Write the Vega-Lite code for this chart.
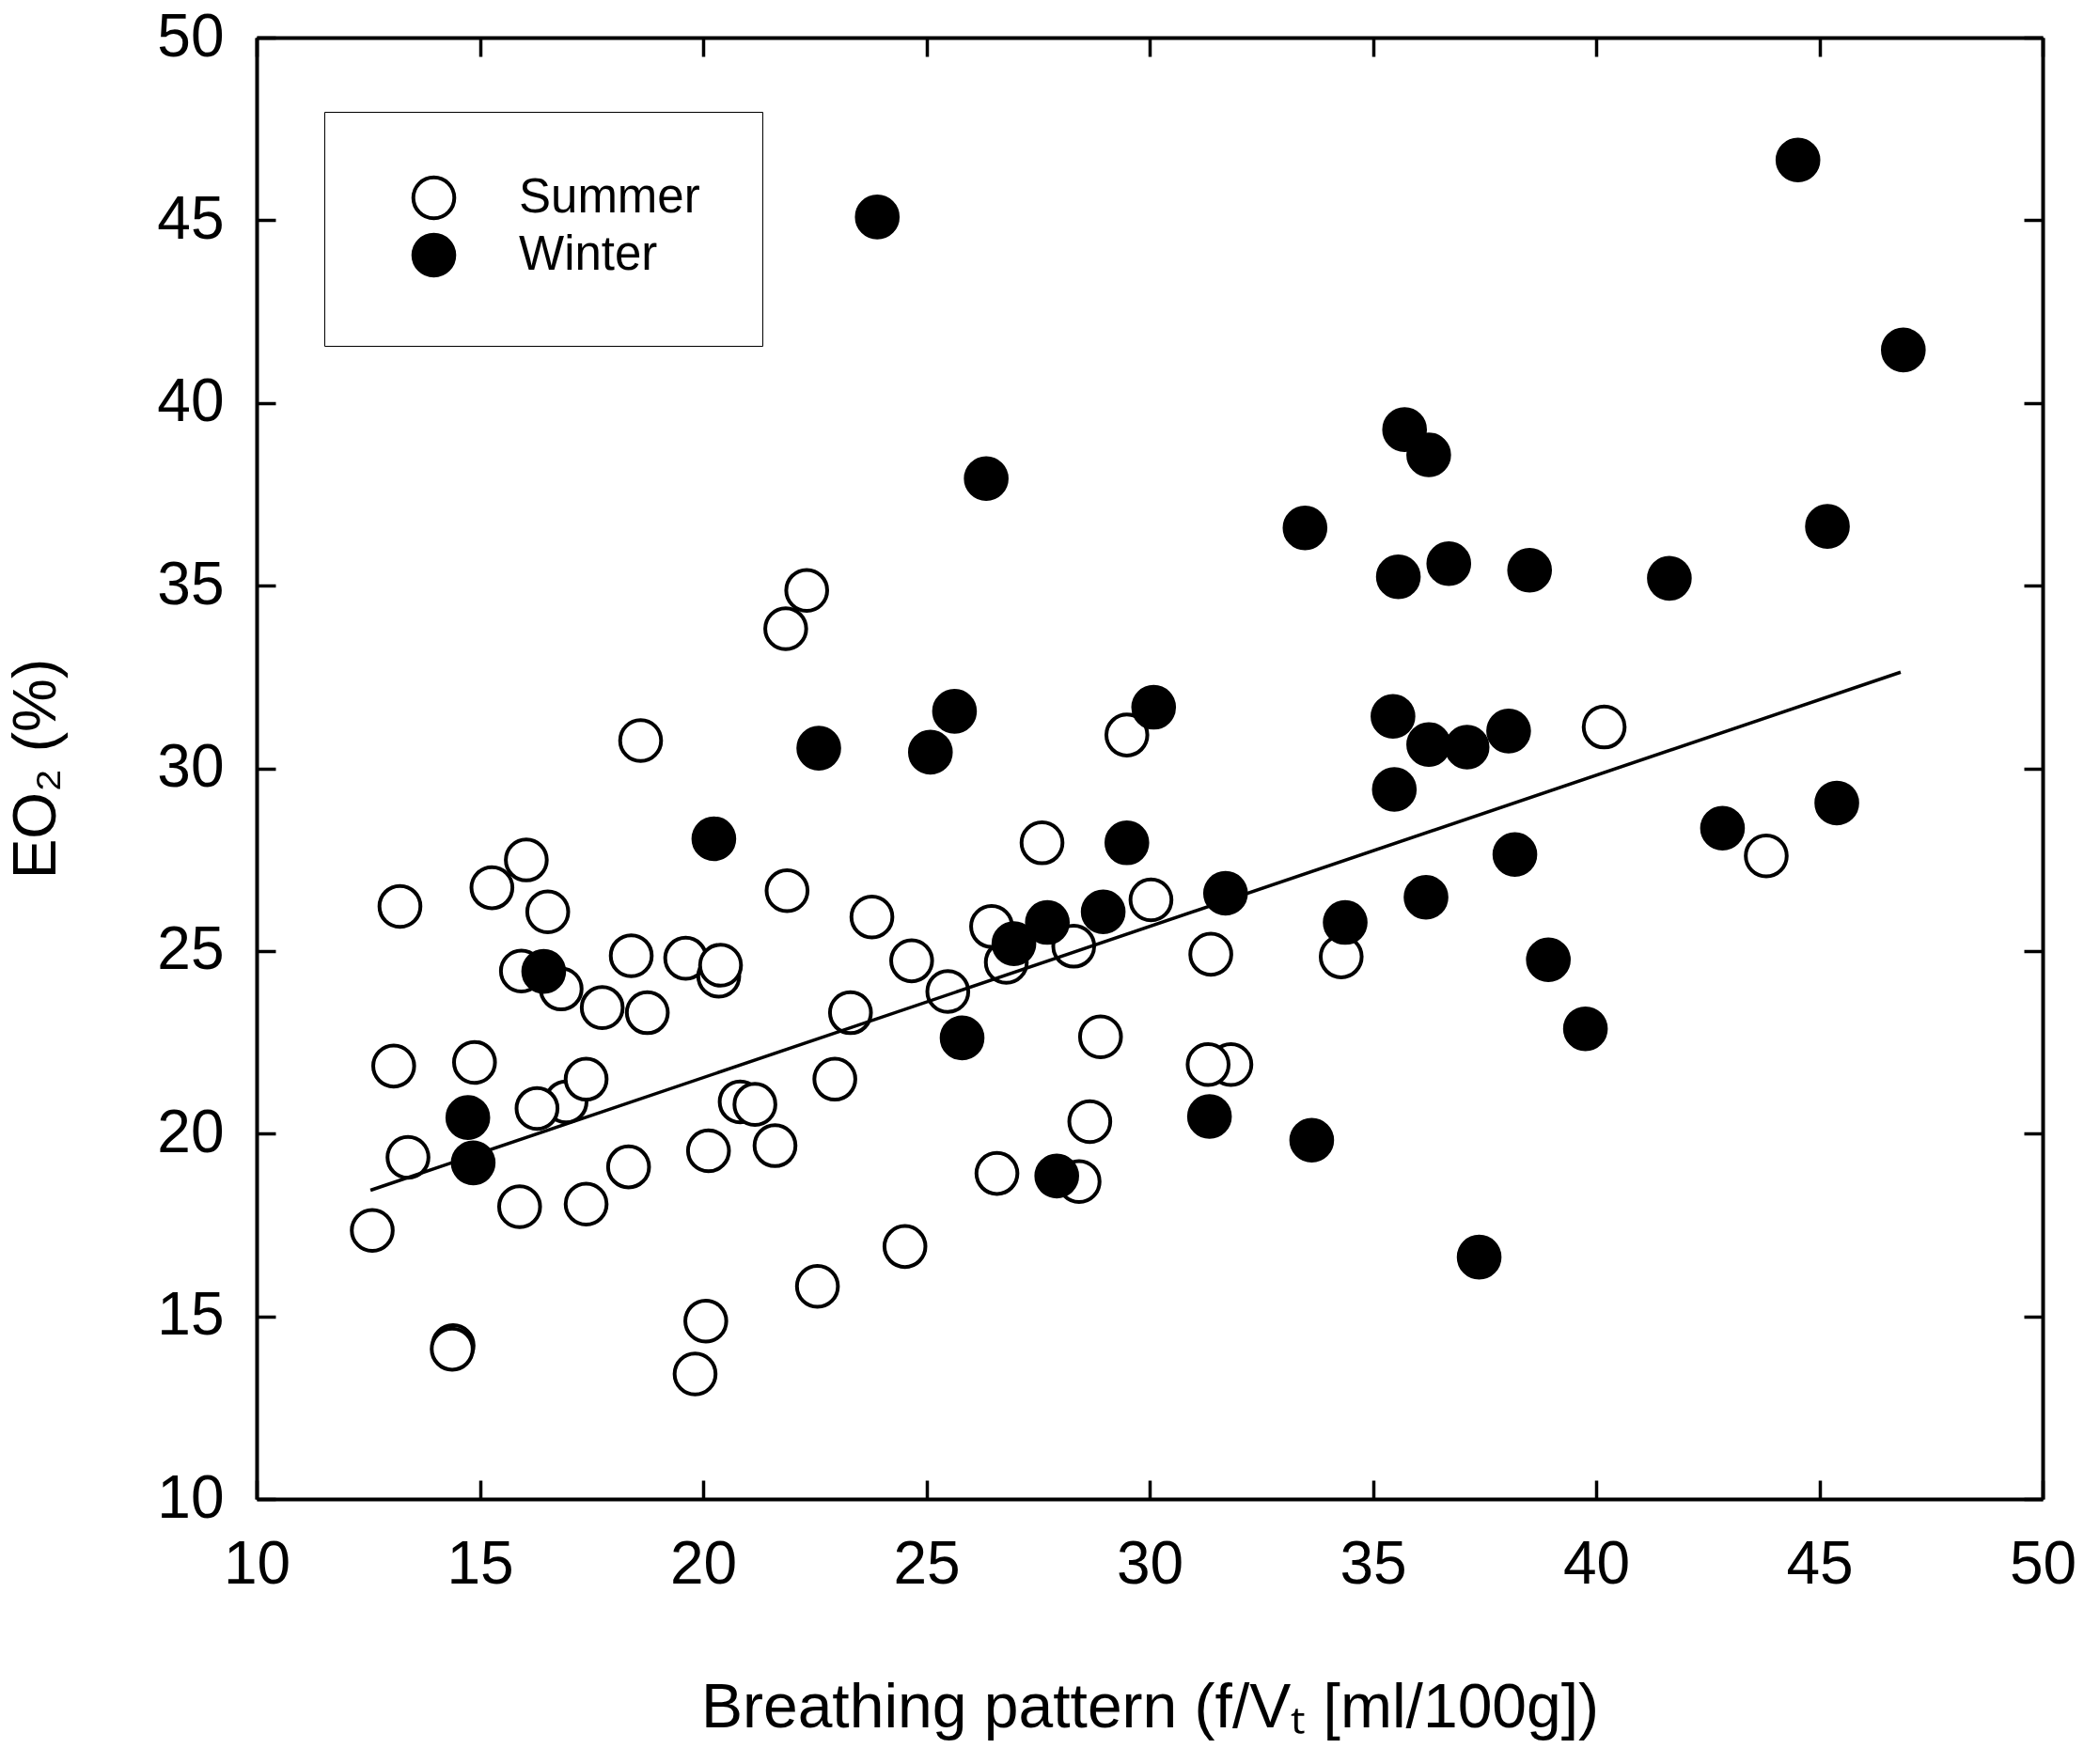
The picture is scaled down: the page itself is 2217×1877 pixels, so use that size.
{
  "$schema": "https://vega.github.io/schema/vega-lite/v6.json",
  "width": 1900,
  "height": 1555,
  "autosize": {"type": "none"},
  "padding": {"left": 273, "top": 40, "right": 44, "bottom": 282},
  "background": "white",
  "datasets": {
    "points": [
      {"season": "Summer", "x": 12.59, "y": 17.35},
      {"season": "Summer", "x": 13.07, "y": 21.85},
      {"season": "Summer", "x": 13.21, "y": 26.22},
      {"season": "Summer", "x": 13.39, "y": 19.35},
      {"season": "Summer", "x": 14.4, "y": 14.2},
      {"season": "Summer", "x": 14.38, "y": 14.1},
      {"season": "Summer", "x": 14.88, "y": 21.95},
      {"season": "Summer", "x": 15.27, "y": 26.73},
      {"season": "Summer", "x": 15.89, "y": 18.0},
      {"season": "Summer", "x": 16.04, "y": 27.49},
      {"season": "Summer", "x": 15.93, "y": 24.45},
      {"season": "Summer", "x": 16.52, "y": 26.07},
      {"season": "Summer", "x": 16.82, "y": 23.96},
      {"season": "Summer", "x": 16.93, "y": 20.87},
      {"season": "Summer", "x": 16.28, "y": 20.69},
      {"season": "Summer", "x": 17.38, "y": 21.49},
      {"season": "Summer", "x": 17.38, "y": 18.07},
      {"season": "Summer", "x": 17.74, "y": 23.45},
      {"season": "Summer", "x": 18.33, "y": 19.09},
      {"season": "Summer", "x": 18.39, "y": 24.87},
      {"season": "Summer", "x": 18.75, "y": 23.31},
      {"season": "Summer", "x": 18.6, "y": 30.76},
      {"season": "Summer", "x": 19.61, "y": 24.8},
      {"season": "Summer", "x": 20.35, "y": 24.31},
      {"season": "Summer", "x": 20.39, "y": 24.61},
      {"season": "Summer", "x": 20.12, "y": 19.53},
      {"season": "Summer", "x": 20.06, "y": 14.87},
      {"season": "Summer", "x": 19.82, "y": 13.42},
      {"season": "Summer", "x": 20.83, "y": 20.87},
      {"season": "Summer", "x": 21.16, "y": 20.8},
      {"season": "Summer", "x": 21.61, "y": 19.67},
      {"season": "Summer", "x": 21.88, "y": 26.65},
      {"season": "Summer", "x": 21.85, "y": 33.82},
      {"season": "Summer", "x": 22.32, "y": 34.87},
      {"season": "Summer", "x": 22.56, "y": 15.82},
      {"season": "Summer", "x": 22.95, "y": 21.49},
      {"season": "Summer", "x": 23.3, "y": 23.31},
      {"season": "Summer", "x": 23.78, "y": 25.93},
      {"season": "Summer", "x": 24.52, "y": 16.91},
      {"season": "Summer", "x": 24.67, "y": 24.73},
      {"season": "Summer", "x": 25.48, "y": 23.89},
      {"season": "Summer", "x": 26.46, "y": 25.67},
      {"season": "Summer", "x": 26.79, "y": 24.69},
      {"season": "Summer", "x": 26.58, "y": 18.91},
      {"season": "Summer", "x": 27.59, "y": 27.96},
      {"season": "Summer", "x": 28.3, "y": 25.13},
      {"season": "Summer", "x": 28.42, "y": 18.69},
      {"season": "Summer", "x": 28.9, "y": 22.65},
      {"season": "Summer", "x": 28.66, "y": 20.33},
      {"season": "Summer", "x": 29.49, "y": 30.91},
      {"season": "Summer", "x": 30.03, "y": 26.4},
      {"season": "Summer", "x": 31.37, "y": 24.91},
      {"season": "Summer", "x": 31.82, "y": 21.89},
      {"season": "Summer", "x": 31.31, "y": 21.89},
      {"season": "Summer", "x": 34.29, "y": 24.84},
      {"season": "Summer", "x": 40.18, "y": 31.13},
      {"season": "Summer", "x": 43.81, "y": 27.6},
      {"season": "Winter", "x": 14.73, "y": 20.44},
      {"season": "Winter", "x": 14.85, "y": 19.2},
      {"season": "Winter", "x": 16.43, "y": 24.44},
      {"season": "Winter", "x": 20.24, "y": 28.07},
      {"season": "Winter", "x": 22.59, "y": 30.55},
      {"season": "Winter", "x": 23.9, "y": 45.09},
      {"season": "Winter", "x": 25.09, "y": 30.44},
      {"season": "Winter", "x": 25.63, "y": 31.56},
      {"season": "Winter", "x": 26.34, "y": 37.93},
      {"season": "Winter", "x": 25.8, "y": 22.62},
      {"season": "Winter", "x": 26.96, "y": 25.2},
      {"season": "Winter", "x": 27.71, "y": 25.78},
      {"season": "Winter", "x": 27.92, "y": 18.84},
      {"season": "Winter", "x": 28.96, "y": 26.07},
      {"season": "Winter", "x": 29.49, "y": 27.96},
      {"season": "Winter", "x": 30.09, "y": 31.67},
      {"season": "Winter", "x": 31.7, "y": 26.58},
      {"season": "Winter", "x": 31.34, "y": 20.47},
      {"season": "Winter", "x": 33.48, "y": 36.58},
      {"season": "Winter", "x": 33.63, "y": 19.82},
      {"season": "Winter", "x": 34.38, "y": 25.78},
      {"season": "Winter", "x": 35.48, "y": 29.42},
      {"season": "Winter", "x": 35.45, "y": 31.42},
      {"season": "Winter", "x": 35.57, "y": 35.24},
      {"season": "Winter", "x": 35.71, "y": 39.27},
      {"season": "Winter", "x": 36.25, "y": 38.58},
      {"season": "Winter", "x": 36.25, "y": 30.65},
      {"season": "Winter", "x": 36.19, "y": 26.47},
      {"season": "Winter", "x": 36.7, "y": 35.6},
      {"season": "Winter", "x": 37.11, "y": 30.58},
      {"season": "Winter", "x": 37.38, "y": 16.62},
      {"season": "Winter", "x": 38.04, "y": 31.02},
      {"season": "Winter", "x": 38.18, "y": 27.64},
      {"season": "Winter", "x": 38.51, "y": 35.42},
      {"season": "Winter", "x": 38.93, "y": 24.76},
      {"season": "Winter", "x": 39.76, "y": 22.87},
      {"season": "Winter", "x": 41.64, "y": 35.2},
      {"season": "Winter", "x": 42.83, "y": 28.36},
      {"season": "Winter", "x": 44.52, "y": 46.65},
      {"season": "Winter", "x": 45.18, "y": 36.62},
      {"season": "Winter", "x": 45.39, "y": 29.05},
      {"season": "Winter", "x": 46.88, "y": 41.45}
    ],
    "fit": [
      {"x": 12.55, "y": 18.45},
      {"x": 46.82, "y": 32.63}
    ]
  },
  "layer": [
    {
      "data": {"name": "points"},
      "transform": [{"filter": "datum.season === 'Summer'"}],
      "mark": {"type": "point", "shape": "circle", "filled": true, "size": 1900, "stroke": "black", "strokeWidth": 4, "opacity": 1},
      "encoding": {
        "x": {
          "field": "x", "type": "quantitative",
          "scale": {"domain": [10, 50], "nice": false, "zero": false},
          "axis": {
            "orient": "bottom",
            "values": [10, 15, 20, 25, 30, 35, 40, 45, 50],
            "grid": false,
            "tickSize": -20, "tickWidth": 3.5, "tickColor": "black",
            "domainColor": "black", "domainWidth": 4,
            "labelFont": "Liberation Sans", "labelFontSize": 64, "labelColor": "black",
            "labelPadding": 58, "labelFlush": false, "labelOverlap": false,
            "title": "Breathing pattern (f/Vₜ [ml/100g])",
            "titleFont": "Liberation Sans", "titleFontSize": 66, "titleFontWeight": "normal",
            "titleColor": "black", "titleBaseline": "alphabetic", "titleY": 242
          }
        },
        "y": {
          "field": "y", "type": "quantitative",
          "scale": {"domain": [10, 50], "nice": false, "zero": false},
          "axis": {
            "orient": "left",
            "values": [10, 15, 20, 25, 30, 35, 40, 45, 50],
            "grid": false,
            "tickSize": -20, "tickWidth": 3.5, "tickColor": "black",
            "domainColor": "black", "domainWidth": 4,
            "labelFont": "Liberation Sans", "labelFontSize": 64, "labelColor": "black",
            "labelPadding": 55, "labelFlush": false, "labelOverlap": false,
            "title": "EO₂ (%)",
            "titleFont": "Liberation Sans", "titleFontSize": 64, "titleFontWeight": "normal",
            "titleColor": "black", "titleBaseline": "alphabetic", "titleX": -215
          }
        },
        "fill": {
          "field": "season", "type": "nominal",
          "scale": {"domain": ["Summer", "Winter"], "range": ["white", "black"]},
          "legend": {
            "title": null,
            "orient": "none", "legendX": 72, "legendY": 79,
            "strokeColor": "black", "padding": 66,
            "symbolType": "circle", "symbolSize": 1900,
            "symbolStrokeColor": "black", "symbolStrokeWidth": 4, "symbolOffset": 25,
            "labelFont": "Liberation Sans", "labelFontSize": 51, "labelColor": "black",
            "labelOffset": 65, "labelLimit": 500, "rowPadding": 0,
            "encode": {"legend": {"update": {"strokeWidth": {"value": 3}}}}
          }
        }
      }
    },
    {
      "data": {"name": "fit"},
      "mark": {"type": "line", "color": "black", "strokeWidth": 3.5},
      "encoding": {
        "x": {
          "field": "x", "type": "quantitative",
          "axis": {
            "orient": "top", "values": [10, 15, 20, 25, 30, 35, 40, 45, 50],
            "labels": false, "grid": false, "title": null,
            "tickSize": -20, "tickWidth": 3.5, "tickColor": "black",
            "domainColor": "black", "domainWidth": 4
          }
        },
        "y": {
          "field": "y", "type": "quantitative",
          "axis": {
            "orient": "right", "values": [10, 15, 20, 25, 30, 35, 40, 45, 50],
            "labels": false, "grid": false, "title": null,
            "tickSize": -20, "tickWidth": 3.5, "tickColor": "black",
            "domainColor": "black", "domainWidth": 4
          }
        }
      }
    },
    {
      "data": {"name": "points"},
      "transform": [{"filter": "datum.season === 'Winter'"}],
      "mark": {"type": "point", "shape": "circle", "filled": true, "size": 1900, "stroke": "black", "strokeWidth": 4, "opacity": 1},
      "encoding": {
        "x": {"field": "x", "type": "quantitative", "axis": null},
        "y": {"field": "y", "type": "quantitative", "axis": null},
        "fill": {"field": "season", "type": "nominal", "legend": null}
      }
    }
  ],
  "resolve": {"axis": {"x": "independent", "y": "independent"}},
  "config": {"view": {"stroke": null}}
}
